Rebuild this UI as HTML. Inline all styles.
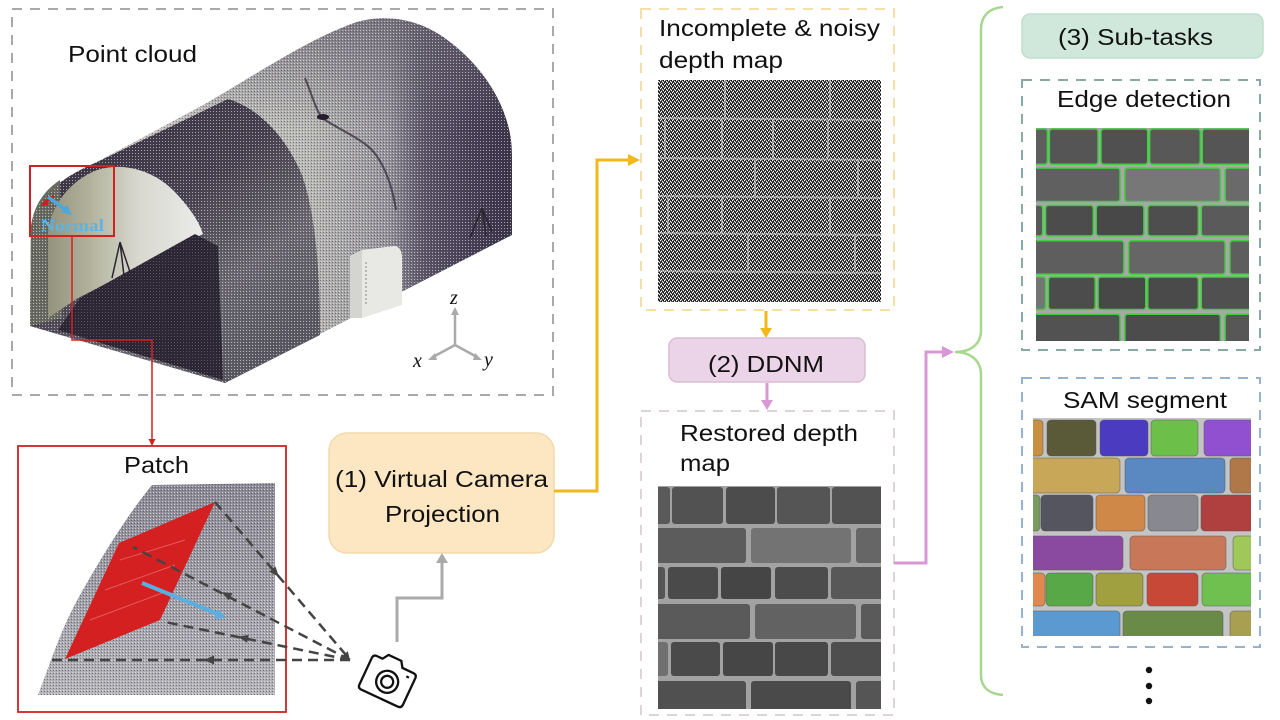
<!DOCTYPE html>
<html><head><meta charset="utf-8"><style>
html,body{margin:0;padding:0;background:#fff;}
body{width:1280px;height:720px;overflow:hidden;}
svg{display:block;}
text{font-family:"Liberation Sans",Arial,sans-serif;fill:#111;}
</style></head><body>
<svg width="1280" height="720" viewBox="0 0 1280 720" xmlns="http://www.w3.org/2000/svg">
<defs>
 <linearGradient id="tg" x1="200" y1="0" x2="512" y2="0" gradientUnits="userSpaceOnUse">
  <stop offset="0" stop-color="#c2c2be"/>
  <stop offset="0.35" stop-color="#b6b6b2"/>
  <stop offset="0.6" stop-color="#96949a"/>
  <stop offset="0.72" stop-color="#5a5466"/>
  <stop offset="0.87" stop-color="#463e54"/>
  <stop offset="1" stop-color="#3a3246"/>
 </linearGradient>
 <linearGradient id="tt" x1="0" y1="20" x2="0" y2="130" gradientUnits="userSpaceOnUse">
  <stop offset="0" stop-color="#6a6672" stop-opacity="0.7"/>
  <stop offset="1" stop-color="#6a6672" stop-opacity="0"/>
 </linearGradient>
 <linearGradient id="portal" x1="140" y1="110" x2="300" y2="330" gradientUnits="userSpaceOnUse">
  <stop offset="0" stop-color="#3c3546"/>
  <stop offset="0.35" stop-color="#47414f"/>
  <stop offset="0.7" stop-color="#6c6a70"/>
  <stop offset="1" stop-color="#5a5862"/>
 </linearGradient>
 <linearGradient id="vg" x1="40" y1="0" x2="205" y2="0" gradientUnits="userSpaceOnUse">
  <stop offset="0" stop-color="#8e8e78"/>
  <stop offset="0.3" stop-color="#b2b29c"/>
  <stop offset="0.6" stop-color="#d8d8d0"/>
  <stop offset="1" stop-color="#ececea"/>
 </linearGradient>
 <linearGradient id="pg" x1="0" y1="485" x2="0" y2="695" gradientUnits="userSpaceOnUse">
  <stop offset="0" stop-color="#8c8a96"/>
  <stop offset="1" stop-color="#b4b4b8"/>
 </linearGradient>
 <pattern id="noise" width="4" height="4" patternUnits="userSpaceOnUse">
  <rect width="4" height="4" fill="#5c5c5c"/>
  <rect x="0" y="0" width="1" height="1" fill="#fff"/>
  <rect x="2" y="1" width="1" height="1" fill="#eee"/>
  <rect x="1" y="3" width="1" height="1" fill="#fff"/>
  <rect x="3" y="2" width="1" height="1" fill="#f4f4f4"/>
  <rect x="3" y="0" width="1" height="1" fill="#000"/>
  <rect x="1" y="1" width="1" height="1" fill="#111"/>
  <rect x="0" y="2" width="1" height="1" fill="#000"/>
  <rect x="2" y="3" width="1" height="1" fill="#111"/>
 </pattern>
 <pattern id="speck" width="3" height="3" patternUnits="userSpaceOnUse">
  <rect x="0" y="0" width="1" height="1" fill="#fff" fill-opacity="0.55"/>
  <rect x="2" y="1" width="1" height="1" fill="#3a3448" fill-opacity="0.5"/>
 </pattern>
</defs>

<!-- ============ Point cloud box ============ -->
<rect x="12" y="9" width="541" height="386" fill="none" stroke="#a9a9a9" stroke-width="2" stroke-dasharray="10,8"/>
<text x="68" y="62" font-size="23" textLength="129" lengthAdjust="spacingAndGlyphs">Point cloud</text>

<!-- tunnel body (main tunnel) -->
<path d="M30,326 L31,228 C33,200 60,178 95,163 L205,104 C260,72 310,38 357,22 C385,14 420,18 450,42 C480,65 500,95 508,125 C512,140 512,150 512,165 L512,235 L225,383 Z" fill="url(#tg)"/>
<path d="M30,326 L31,228 C33,200 60,178 95,163 L205,104 C260,72 310,38 357,22 C385,14 420,18 450,42 C480,65 500,95 508,125 C512,140 512,150 512,165 L512,235 L225,383 Z" fill="url(#tt)"/>
<!-- portal shell -->
<path d="M30,326 L31,228 C33,200 60,178 95,163 L228,99 C258,108 285,135 302,175 C314,210 320,260 320,335 L225,383 Z" fill="url(#portal)"/>
<!-- front-left face strip -->
<path d="M30,326 L31,228 C33,205 45,190 60,180 L62,318 Z" fill="#6a6b60"/>
<path d="M30,326 L31,228 C33,200 60,178 95,163 L205,104 C260,72 310,38 357,22 C385,14 420,18 450,42 C480,65 500,95 508,125 C512,140 512,150 512,165 L512,235 L225,383 Z" fill="url(#speck)"/>
<!-- inner vault -->
<path d="M48,318 L48,232 C52,202 72,180 97,170 C127,161 160,172 182,200 C195,215 200,225 203,234 L78,298 Z" fill="url(#vg)"/>
<!-- floor -->
<path d="M58,330 L80,298 L195,234 L218,246 L223,380 Z" fill="#2c2634"/>
<path d="M58,330 L80,298 L195,234 L218,246 L223,380 Z" fill="url(#speck)" opacity="0.4"/>
<!-- crack -->
<path d="M305,78 C312,95 316,110 322,118 C340,130 360,138 372,150 C385,165 392,185 396,210" fill="none" stroke="#3a3444" stroke-width="2" opacity="0.8"/>
<ellipse cx="323" cy="117" rx="6" ry="3" fill="#221c2c"/>
<!-- white box -->
<path d="M350,256 L362,250 L394,246 C400,246 402,252 402,258 L402,305 L362,318 L350,318 Z" fill="#e8e8e4"/>
<path d="M350,256 L362,250 L362,318 L350,318 Z" fill="#d4d4d0"/>
<line x1="366" y1="262" x2="366" y2="305" stroke="#b8b8b4" stroke-width="2" stroke-dasharray="2,2"/>
<!-- tripods -->
<path d="M120,242 L112,278 M120,242 L124,276 M120,242 L130,272" stroke="#2a2430" stroke-width="1.5" fill="none"/>
<path d="M482,208 L470,238 M482,208 L486,236 M482,208 L492,232" stroke="#2a2430" stroke-width="1.5" fill="none"/>
<!-- normal -->
<path d="M54,196 L44,203" stroke="#c82020" stroke-width="3"/>
<polygon points="40,206 46,199 49,205" fill="#c82020"/>
<line x1="48" y1="197" x2="66" y2="210" stroke="#4aa8de" stroke-width="3.5"/>
<polygon points="72,215 61,212 67,205" fill="#4aa8de"/>
<text x="41" y="231" font-weight="bold" font-size="17" textLength="63" lengthAdjust="spacingAndGlyphs" style="fill:#5ab4e6;font-family:'Liberation Serif',serif">Normal</text>
<rect x="30" y="166" width="84" height="70" fill="none" stroke="#d42020" stroke-width="2"/>
<!-- axes -->
<g stroke="#aaaaaa" stroke-width="2.5" fill="none">
 <line x1="455" y1="345" x2="455" y2="313"/>
 <line x1="455" y1="345" x2="433" y2="357"/>
 <line x1="455" y1="345" x2="477" y2="357"/>
</g>
<polygon points="451,315 455,307 459,315" fill="#aaa"/>
<polygon points="435,353 428,360 437,360" fill="#aaa"/>
<polygon points="475,353 482,360 473,360" fill="#aaa"/>
<text x="450" y="304" font-size="20" font-style="italic" style="font-family:'Liberation Serif',serif">z</text>
<text x="413" y="367" font-size="20" font-style="italic" style="font-family:'Liberation Serif',serif">x</text>
<text x="484" y="366" font-size="20" font-style="italic" style="font-family:'Liberation Serif',serif">y</text>

<!-- red connector -->
<path d="M72,236 V340 H152 V440" fill="none" stroke="#d42020" stroke-width="1.5"/>
<polygon points="148.5,439 152,446 155.5,439" fill="#d42020"/>

<!-- ============ Patch box ============ -->
<rect x="18" y="446" width="268" height="266" fill="none" stroke="#d42020" stroke-width="1.8"/>
<text x="124" y="473" font-size="23" textLength="65" lengthAdjust="spacingAndGlyphs">Patch</text>
<path d="M152,485 L275,483 L275,695 L38,695 C48,670 60,630 80,595 C100,560 125,518 152,485 Z" fill="url(#pg)"/>
<path d="M152,485 L275,483 L275,695 L38,695 C48,670 60,630 80,595 C100,560 125,518 152,485 Z" fill="url(#speck)"/>
<polygon points="215,502 119,543 65,659 160,620" fill="#d42020"/>
<g stroke="#f08080" stroke-width="1" opacity="0.6">
 <line x1="120" y1="560" x2="185" y2="540"/>
 <line x1="105" y1="590" x2="175" y2="565"/>
 <line x1="90" y1="620" x2="165" y2="592"/>
</g>
<line x1="142" y1="583" x2="218" y2="614" stroke="#5aaee0" stroke-width="4"/>
<polygon points="226,618 214,619 218,609" fill="#5aaee0"/>
<!-- dashed rays -->
<g stroke="#444" stroke-width="2.5" stroke-dasharray="10,6" fill="none">
 <line x1="215" y1="502" x2="346" y2="655"/>
 <line x1="350" y1="660" x2="133" y2="547"/>
 <line x1="350" y1="660" x2="165" y2="622"/>
 <line x1="350" y1="660" x2="46" y2="660"/>
</g>
<g fill="#444">
 <polygon points="279,577 269.4,571.6 275.4,566.4"/>
 <polygon points="350,660 341.8,656.5 347.8,651.3"/>
 <polygon points="221.7,592.2 232.4,593.3 228.7,600.4"/>
 <polygon points="238.1,636.8 248.7,634.9 247.1,642.7"/>
 <polygon points="204,660 214,655.5 214,664.5"/>
</g>
<!-- camera -->
<g transform="translate(388,680) rotate(25)" fill="#fff" stroke="#111" stroke-width="2.3">
 <path d="M-14,-17 L-10,-23 L4,-23 L8,-17 L20,-17 Q24,-17 24,-13 L24,16 Q24,20 20,20 L-20,20 Q-24,20 -24,16 L-24,-13 Q-24,-17 -20,-17 Z"/>
 <circle cx="0" cy="2" r="11"/>
 <circle cx="0" cy="2" r="6"/>
 <line x1="15" y1="-11" x2="18" y2="-11"/>
</g>
<!-- gray connector -->
<path d="M397,642 V598 H442 V562" fill="none" stroke="#aaaaaa" stroke-width="3"/>
<polygon points="436,563 442,553 448,563" fill="#aaa"/>

<!-- ============ Virtual camera box ============ -->
<rect x="329" y="433" width="225" height="120" rx="18" fill="#fde7c2" stroke="#f4d8aa" stroke-width="1.5"/>
<text x="335" y="487" font-size="23" textLength="213" lengthAdjust="spacingAndGlyphs">(1) Virtual Camera</text>
<text x="385" y="522" font-size="23" textLength="115" lengthAdjust="spacingAndGlyphs">Projection</text>
<!-- yellow connector -->
<path d="M554,491 H597 V160 H630" fill="none" stroke="#f2b818" stroke-width="3"/>
<polygon points="628,154 640,160 628,166" fill="#f2b818"/>

<!-- ============ Incomplete depth map ============ -->
<rect x="641" y="9" width="253" height="301" fill="none" stroke="#f6dfa6" stroke-width="2" stroke-dasharray="10,8"/>
<text x="659" y="36" font-size="23" textLength="221" lengthAdjust="spacingAndGlyphs">Incomplete &amp; noisy</text>
<text x="659" y="68" font-size="23" textLength="124" lengthAdjust="spacingAndGlyphs">depth map</text>
<rect x="658" y="80" width="223" height="222" fill="url(#noise)"/>
<g stroke="#e0e0e0" stroke-width="2" opacity="0.5" fill="none">
 <line x1="658" y1="118" x2="881" y2="120"/>
 <line x1="658" y1="158" x2="881" y2="160"/>
 <line x1="658" y1="196" x2="881" y2="198"/>
 <line x1="658" y1="233" x2="881" y2="235"/>
 <line x1="658" y1="271" x2="881" y2="273"/>
 <line x1="725" y1="80" x2="725" y2="118"/>
 <line x1="830" y1="80" x2="830" y2="118"/>
 <line x1="665" y1="120" x2="665" y2="158"/>
 <line x1="722" y1="120" x2="722" y2="158"/>
 <line x1="773" y1="120" x2="773" y2="158"/>
 <line x1="828" y1="120" x2="828" y2="158"/>
 <line x1="755" y1="160" x2="755" y2="196"/>
 <line x1="858" y1="160" x2="858" y2="196"/>
 <line x1="668" y1="198" x2="668" y2="233"/>
 <line x1="722" y1="198" x2="722" y2="233"/>
 <line x1="830" y1="198" x2="830" y2="233"/>
 <line x1="748" y1="235" x2="748" y2="271"/>
 <line x1="855" y1="235" x2="855" y2="271"/>
</g>
<!-- yellow down -->
<line x1="766" y1="311" x2="766" y2="330" stroke="#f2b818" stroke-width="3"/>
<polygon points="760,328 766,338 772,328" fill="#f2b818"/>

<!-- ============ DDNM ============ -->
<rect x="669" y="338" width="196" height="44" rx="8" fill="#ecd4e8" stroke="#dcbcd6" stroke-width="1.5"/>
<text x="708" y="372" font-size="23" textLength="116" lengthAdjust="spacingAndGlyphs">(2) DDNM</text>
<line x1="767" y1="383" x2="767" y2="402" stroke="#d898d6" stroke-width="3"/>
<polygon points="761,400 767,410 773,400" fill="#d898d6"/>

<!-- ============ Restored depth map ============ -->
<rect x="641" y="411" width="253" height="304" fill="none" stroke="#ddd4d9" stroke-width="2" stroke-dasharray="10,8"/>
<text x="680" y="441" font-size="23" textLength="178" lengthAdjust="spacingAndGlyphs">Restored depth</text>
<text x="680" y="471" font-size="23" textLength="50" lengthAdjust="spacingAndGlyphs">map</text>
<svg x="658" y="486" width="223" height="223" viewBox="0 0 223 223">
 <rect width="223" height="223" fill="#a2a2a2"/>
 <g>
  <rect x="-4" y="1" width="16" height="37" rx="3" fill="#5a5a5a"/>
  <rect x="14" y="1" width="51" height="37" rx="3" fill="#525252"/>
  <rect x="68" y="1" width="49" height="37" rx="3" fill="#4c4c4c"/>
  <rect x="119" y="1" width="53" height="37" rx="3" fill="#555"/>
  <rect x="174" y="1" width="52" height="37" rx="3" fill="#525252"/>
  <rect x="-4" y="42" width="92" height="35" rx="3" fill="#5c5c5c"/>
  <rect x="93" y="42" width="100" height="35" rx="3" fill="#737373"/>
  <rect x="198" y="42" width="28" height="35" rx="3" fill="#666"/>
  <rect x="-4" y="81" width="11" height="32" rx="3" fill="#555"/>
  <rect x="10" y="81" width="50" height="32" rx="3" fill="#4a4a4a"/>
  <rect x="63" y="81" width="50" height="32" rx="3" fill="#454545"/>
  <rect x="117" y="81" width="53" height="32" rx="3" fill="#4c4c4c"/>
  <rect x="173" y="81" width="53" height="32" rx="3" fill="#585858"/>
  <rect x="-4" y="118" width="96" height="35" rx="3" fill="#5a5a5a"/>
  <rect x="97" y="118" width="101" height="35" rx="3" fill="#626262"/>
  <rect x="203" y="118" width="23" height="35" rx="3" fill="#5a5a5a"/>
  <rect x="-4" y="156" width="14" height="34" rx="3" fill="#707070"/>
  <rect x="13" y="156" width="49" height="34" rx="3" fill="#4a4a4a"/>
  <rect x="65" y="156" width="50" height="34" rx="3" fill="#464646"/>
  <rect x="117" y="156" width="53" height="34" rx="3" fill="#484848"/>
  <rect x="173" y="156" width="53" height="34" rx="3" fill="#4e4e4e"/>
  <rect x="-4" y="195" width="92" height="32" rx="3" fill="#505050"/>
  <rect x="93" y="195" width="100" height="32" rx="3" fill="#4a4a4a"/>
  <rect x="198" y="195" width="28" height="32" rx="3" fill="#555"/>
 </g>
</svg>
<!-- pink connector -->
<path d="M894,563 H926 V352 H943" fill="none" stroke="#d898d6" stroke-width="3"/>
<polygon points="942,346 954,352 942,358" fill="#d898d6"/>

<!-- ============ brace ============ -->
<path d="M1003,7 C990,8 981,15 981,30 L981,330 C981,345 970,352 955,352 C970,352 981,360 981,375 L981,675 C981,688 990,694 1003,695" fill="none" stroke="#a8d890" stroke-width="2.5"/>

<!-- ============ Sub-tasks ============ -->
<rect x="1022" y="14" width="241" height="44" rx="8" fill="#cfe8db" stroke="#bde0cc" stroke-width="1.5"/>
<text x="1058" y="45" font-size="23" textLength="155" lengthAdjust="spacingAndGlyphs">(3) Sub-tasks</text>

<!-- Edge detection -->
<rect x="1022" y="80" width="238" height="270" fill="none" stroke="#88aaa2" stroke-width="2" stroke-dasharray="10,8"/>
<text x="1057" y="107" font-size="23" textLength="174" lengthAdjust="spacingAndGlyphs">Edge detection</text>
<svg x="1036" y="128" width="213" height="213" viewBox="0 0 223 223">
 <rect width="223" height="223" fill="#a8a8a8"/>
 <g stroke="#44cc44" stroke-width="1.6">
  <rect x="-4" y="1" width="16" height="37" rx="3" fill="#5e5e5e"/>
  <rect x="14" y="1" width="51" height="37" rx="3" fill="#555"/>
  <rect x="68" y="1" width="49" height="37" rx="3" fill="#505050"/>
  <rect x="119" y="1" width="53" height="37" rx="3" fill="#585858"/>
  <rect x="174" y="1" width="52" height="37" rx="3" fill="#555"/>
  <rect x="-4" y="42" width="92" height="35" rx="3" fill="#606060"/>
  <rect x="93" y="42" width="100" height="35" rx="3" fill="#777"/>
  <rect x="198" y="42" width="28" height="35" rx="3" fill="#6a6a6a"/>
  <rect x="-4" y="81" width="11" height="32" rx="3" fill="#585858"/>
  <rect x="10" y="81" width="50" height="32" rx="3" fill="#4c4c4c"/>
  <rect x="63" y="81" width="50" height="32" rx="3" fill="#484848"/>
  <rect x="117" y="81" width="53" height="32" rx="3" fill="#4e4e4e"/>
  <rect x="173" y="81" width="53" height="32" rx="3" fill="#5a5a5a"/>
  <rect x="-4" y="118" width="96" height="35" rx="3" fill="#5e5e5e"/>
  <rect x="97" y="118" width="101" height="35" rx="3" fill="#666"/>
  <rect x="203" y="118" width="23" height="35" rx="3" fill="#5e5e5e"/>
  <rect x="-4" y="156" width="14" height="34" rx="3" fill="#747474"/>
  <rect x="13" y="156" width="49" height="34" rx="3" fill="#4c4c4c"/>
  <rect x="65" y="156" width="50" height="34" rx="3" fill="#484848"/>
  <rect x="117" y="156" width="53" height="34" rx="3" fill="#4a4a4a"/>
  <rect x="173" y="156" width="53" height="34" rx="3" fill="#505050"/>
  <rect x="-4" y="195" width="92" height="32" rx="3" fill="#525252"/>
  <rect x="93" y="195" width="100" height="32" rx="3" fill="#4c4c4c"/>
  <rect x="198" y="195" width="28" height="32" rx="3" fill="#575757"/>
 </g>
</svg>

<!-- SAM segment -->
<rect x="1022" y="378" width="238" height="269" fill="none" stroke="#96b2cc" stroke-width="2" stroke-dasharray="10,8"/>
<text x="1063" y="408" font-size="23" textLength="164" lengthAdjust="spacingAndGlyphs">SAM segment</text>
<svg x="1033" y="418" width="218" height="218" viewBox="0 0 218 218">
 <rect width="218" height="218" fill="#c4c4c4"/>
 <g stroke="#555" stroke-width="0.8" stroke-opacity="0.6">
  <rect x="-4" y="2" width="14" height="36" rx="4" fill="#c89040"/>
  <rect x="14" y="2" width="49" height="36" rx="4" fill="#5a5a38"/>
  <rect x="67" y="2" width="48" height="36" rx="4" fill="#4b3bc0"/>
  <rect x="118" y="2" width="47" height="36" rx="4" fill="#6cc04a"/>
  <rect x="171" y="2" width="50" height="36" rx="4" fill="#9050d0"/>
  <rect x="-4" y="40" width="91" height="35" rx="4" fill="#c8a858"/>
  <rect x="92" y="40" width="100" height="35" rx="4" fill="#5a88c0"/>
  <rect x="197" y="40" width="24" height="35" rx="4" fill="#b07848"/>
  <rect x="-4" y="77" width="11" height="36" rx="4" fill="#7a9a60"/>
  <rect x="8" y="77" width="52" height="36" rx="4" fill="#555560"/>
  <rect x="63" y="77" width="49" height="36" rx="4" fill="#d08848"/>
  <rect x="115" y="77" width="50" height="36" rx="4" fill="#888890"/>
  <rect x="168" y="77" width="53" height="36" rx="4" fill="#b04040"/>
  <rect x="-4" y="118" width="94" height="34" rx="4" fill="#8a4aa0"/>
  <rect x="97" y="118" width="96" height="34" rx="4" fill="#c87858"/>
  <rect x="200" y="118" width="21" height="34" rx="4" fill="#a0c858"/>
  <rect x="-4" y="155" width="16" height="33" rx="4" fill="#e08850"/>
  <rect x="13" y="155" width="47" height="33" rx="4" fill="#58a848"/>
  <rect x="63" y="155" width="47" height="33" rx="4" fill="#a0a040"/>
  <rect x="114" y="155" width="51" height="33" rx="4" fill="#c84838"/>
  <rect x="169" y="155" width="52" height="33" rx="4" fill="#70c050"/>
  <rect x="-4" y="193" width="91" height="28" rx="4" fill="#5a9ad0"/>
  <rect x="90" y="193" width="100" height="28" rx="4" fill="#6a8a48"/>
  <rect x="197" y="193" width="24" height="28" rx="4" fill="#a8a050"/>
 </g>
</svg>

<!-- dots -->
<circle cx="1149" cy="670" r="3.2" fill="#111"/>
<circle cx="1149" cy="686" r="3.2" fill="#111"/>
<circle cx="1149" cy="701" r="3.2" fill="#111"/>
</svg>
</body></html>
